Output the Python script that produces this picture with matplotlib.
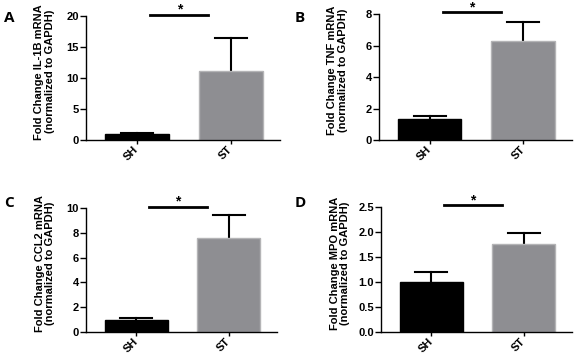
import matplotlib
matplotlib.use('Agg')
import matplotlib.pyplot as plt

plt.rcParams['font.family'] = ['Liberation Sans', 'DejaVu Sans']

groups = ['SH', 'ST']
panel_letters = ['A', 'B', 'C', 'D']
genes = ['IL-1B', 'TNF', 'CCL2', 'MPO']
means = [[1.0, 11.1], [1.35, 6.3], [1.0, 7.6], [1.0, 1.77]]
sems = [[0.2, 5.4], [0.15, 1.2], [0.15, 1.8], [0.2, 0.21]]
y_max = [20, 8, 10, 2.5]
y_ticks = [[0, 5, 10, 15, 20], [0, 2, 4, 6, 8], [0, 2, 4, 6, 8, 10],
           [0.0, 0.5, 1.0, 1.5, 2.0, 2.5]]
y_fmt = ['{:.0f}', '{:.0f}', '{:.0f}', '{:.1f}']
bar_colors = ['#000000', '#8e8e92']
edge_colors = ['#000000', '#b4b4b6']

W, H = 574, 356
# axes boxes in pixels: left, top, right, bottom
boxes = [(86, 16, 280, 140), (379, 14, 572, 140),
         (86, 208, 277, 332), (381, 207, 572, 332)]
letter_pos = [(9, 18), (300, 18), (9, 203), (300, 203)]


def plot_panel(ax, i):
    x = [0, 1]
    ax.bar(x, means[i], width=0.68, color=bar_colors, edgecolor=edge_colors,
           linewidth=1, zorder=2)
    # upper-only error bars (line from bar top, cap at top)
    for xi, m, s in zip(x, means[i], sems[i]):
        ax.plot([xi, xi], [m * 0.97, m + s], color='black', lw=1.5, zorder=1)
        ax.plot([xi - 0.17, xi + 0.17], [m + s, m + s], color='black', lw=1.5,
                zorder=1)
    ax.set_xlim(-0.54, 1.52)
    ax.set_ylim(0, y_max[i])
    ax.set_yticks(y_ticks[i])
    ax.set_yticklabels([y_fmt[i].format(t) for t in y_ticks[i]],
                       fontweight='bold', fontsize=8)
    ax.set_xticks(x)
    ax.set_xticklabels(groups, rotation=45, ha='right', va='center',
                       rotation_mode='anchor', fontweight='bold', fontsize=8)
    ax.tick_params(axis='x', length=3, width=1, pad=3)
    ax.tick_params(axis='y', length=4, width=1, pad=1)
    for side in ['top', 'right']:
        ax.spines[side].set_visible(False)
    for side in ['left', 'bottom']:
        ax.spines[side].set_linewidth(1)
    ax.set_ylabel('Fold Change %s mRNA\n(normalized to GAPDH)' % genes[i],
                  fontweight='bold', fontsize=8, linespacing=1.1)
    ax.yaxis.set_label_coords(-0.16, 0.55)
    # significance bar
    yl = y_max[i] * 1.012
    ax.plot([0.14, 0.76], [yl, yl], color='black', lw=2, clip_on=False)
    ax.annotate('*', xy=(0.45, yl), xytext=(0, 1), textcoords='offset points',
                ha='center', va='baseline', fontsize=10, fontweight='bold',
                annotation_clip=False)


fig = plt.figure(figsize=(W / 100, H / 100), dpi=100)
for i, (l, t, r, b) in enumerate(boxes):
    ax = fig.add_axes([l / W, 1 - b / H, (r - l) / W, (b - t) / H])
    plot_panel(ax, i)
    lx, ly = letter_pos[i]
    fig.text(lx / W, 1 - ly / H, panel_letters[i], ha='center', va='center',
             fontsize=11, fontweight='bold', family=['Open Sans', 'DejaVu Sans'])

fig.savefig('out.png', dpi=100)
